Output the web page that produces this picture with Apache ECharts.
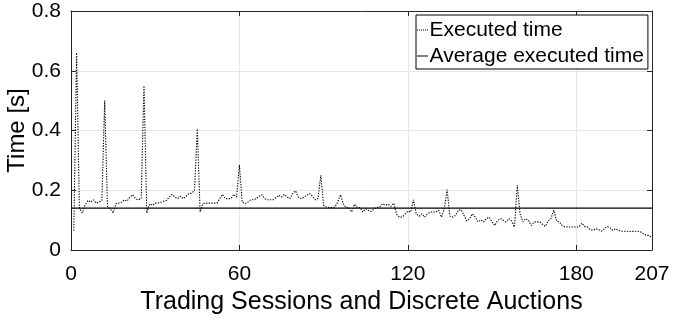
<!DOCTYPE html>
<html>
<head>
<meta charset="utf-8">
<script src="https://cdn.jsdelivr.net/npm/echarts@6/dist/echarts.min.js"></script>
<style>
  html, body { margin: 0; padding: 0; background: #fff; }
  #chart { width: 673px; height: 320px; }
</style>
</head>
<body>
<div id="chart"></div>
<script>
// Execution time per trading session / discrete auction (seconds)
const sessions = Array.from({ length: 207 }, (_, i) => i + 1);
const executedTime = [
  0.065, 0.660, 0.140, 0.124, 0.150, 0.166, 0.160, 0.168, 0.157, 0.160,
  0.166, 0.500, 0.144, 0.138, 0.124, 0.155, 0.157, 0.160, 0.168, 0.164,
  0.177, 0.185, 0.172, 0.168, 0.172, 0.550, 0.124, 0.155, 0.150, 0.157,
  0.157, 0.160, 0.163, 0.166, 0.177, 0.186, 0.177, 0.172, 0.180, 0.172,
  0.180, 0.189, 0.190, 0.200, 0.405, 0.127, 0.155, 0.157, 0.157, 0.157,
  0.157, 0.157, 0.172, 0.186, 0.172, 0.172, 0.172, 0.186, 0.177, 0.284,
  0.160, 0.155, 0.160, 0.168, 0.168, 0.172, 0.180, 0.185, 0.172, 0.168,
  0.168, 0.168, 0.175, 0.183, 0.177, 0.186, 0.177, 0.172, 0.189, 0.198,
  0.177, 0.172, 0.177, 0.183, 0.189, 0.180, 0.168, 0.172, 0.250, 0.150,
  0.144, 0.142, 0.142, 0.144, 0.160, 0.185, 0.155, 0.142, 0.142, 0.127,
  0.153, 0.142, 0.142, 0.127, 0.138, 0.132, 0.129, 0.138, 0.142, 0.144,
  0.155, 0.150, 0.153, 0.146, 0.157, 0.120, 0.110, 0.110, 0.120, 0.130,
  0.127, 0.168, 0.121, 0.113, 0.121, 0.110, 0.121, 0.127, 0.127, 0.127,
  0.133, 0.110, 0.138, 0.202, 0.113, 0.110, 0.116, 0.133, 0.135, 0.116,
  0.097, 0.105, 0.121, 0.110, 0.094, 0.101, 0.094, 0.105, 0.110, 0.094,
  0.082, 0.099, 0.105, 0.099, 0.094, 0.105, 0.097, 0.077, 0.217, 0.121,
  0.094, 0.105, 0.099, 0.082, 0.094, 0.094, 0.094, 0.086, 0.079, 0.097,
  0.105, 0.133, 0.097, 0.094, 0.082, 0.077, 0.077, 0.077, 0.077, 0.077,
  0.077, 0.090, 0.079, 0.077, 0.068, 0.066, 0.071, 0.068, 0.063, 0.071,
  0.079, 0.075, 0.066, 0.071, 0.066, 0.063, 0.063, 0.063, 0.062, 0.062,
  0.063, 0.063, 0.060, 0.054, 0.049, 0.049, 0.041
];
const averageTime = 0.14;
const xRange = [0, 207];
const xTickStep = 60;
const yRange = [0, 0.8];
const yTickStep = 0.2;

const fontFamily = '"Liberation Sans", Arial, Helvetica, sans-serif';
const axisColor = '#262626';
const gridColor = '#e6e6e6';

// Legend glyphs: a short dotted stroke and a short solid stroke
const dottedIcon = 'path://M0,0h1v1h-1zM2,0h1v1h-1zM4,0h1v1h-1zM6,0h1v1h-1zM8,0h1v1h-1zM10,0h1v1h-1z';
const solidIcon = 'path://M0,0h11v1h-11z';

const chart = echarts.init(document.getElementById('chart'), null, { renderer: 'canvas' });

const baseAxis = {
  axisLine: { show: true, onZero: false, lineStyle: { color: axisColor, width: 1 } },
  axisTick: { show: true, inside: true, length: 5, lineStyle: { color: axisColor, width: 1 } },
  splitLine: { show: false },
  axisLabel: { show: false }
};

chart.setOption({
  animation: false,
  backgroundColor: '#fff',
  textStyle: { fontFamily },
  grid: { left: 71, right: 21, top: 11, bottom: 70, containLabel: false, outerBoundsMode: 'none' },
  xAxis: [
    {
      ...baseAxis,
      type: 'value',
      min: xRange[0], max: xRange[1], interval: xTickStep,
      position: 'bottom',
      splitLine: { show: true, lineStyle: { color: gridColor, width: 1 } },
      axisLabel: { show: true, fontSize: 21, color: '#000', margin: 14, fontFamily },
      name: 'Trading Sessions and Discrete Auctions',
      nameLocation: 'middle',
      nameGap: 40,
      nameMoveOverlap: false,
      nameTextStyle: { fontSize: 25, color: '#000', fontFamily }
    },
    {
      ...baseAxis,
      type: 'value',
      min: xRange[0], max: xRange[1], interval: xTickStep,
      position: 'top'
    }
  ],
  yAxis: [
    {
      ...baseAxis,
      type: 'value',
      min: yRange[0], max: yRange[1], interval: yTickStep,
      position: 'left',
      splitLine: { show: true, lineStyle: { color: gridColor, width: 1 } },
      axisLabel: { show: true, fontSize: 21, color: '#000', margin: 10, fontFamily },
      name: 'Time [s]',
      nameLocation: 'middle',
      nameGap: 42,
      nameMoveOverlap: false,
      nameTextStyle: { fontSize: 24, color: '#000', fontFamily }
    },
    {
      ...baseAxis,
      type: 'value',
      min: yRange[0], max: yRange[1], interval: yTickStep,
      position: 'right'
    }
  ],
  legend: {
    orient: 'vertical',
    left: 416,
    top: 15,
    backgroundColor: '#fff',
    borderColor: '#000',
    borderWidth: 1,
    borderRadius: 0,
    padding: [4, 4, 2, 1],
    itemGap: 4,
    itemWidth: 14,
    itemHeight: 1,
    textStyle: { fontSize: 21, color: '#000', fontFamily, padding: [0, 0, 0, -5], lineHeight: 22 },
    data: [
      { name: 'Executed time', icon: dottedIcon, itemStyle: { color: '#000' } },
      { name: 'Average executed time', icon: solidIcon, itemStyle: { color: '#000' } }
    ]
  },
  series: [
    {
      name: 'Executed time',
      type: 'line',
      xAxisIndex: 0,
      yAxisIndex: 0,
      symbol: 'none',
      showSymbol: false,
      data: sessions.map((s, i) => [s, executedTime[i]]),
      lineStyle: { color: '#000', width: 1.1, type: [1.3, 1.4] },
      itemStyle: { color: '#000' },
      z: 3
    },
    {
      name: 'Average executed time',
      type: 'line',
      xAxisIndex: 0,
      yAxisIndex: 0,
      symbol: 'none',
      showSymbol: false,
      data: [[xRange[0], averageTime], [xRange[1], averageTime]],
      lineStyle: { color: '#000', width: 1.3, type: 'solid' },
      itemStyle: { color: '#000' },
      z: 2
    }
  ]
});
</script>
</body>
</html>
